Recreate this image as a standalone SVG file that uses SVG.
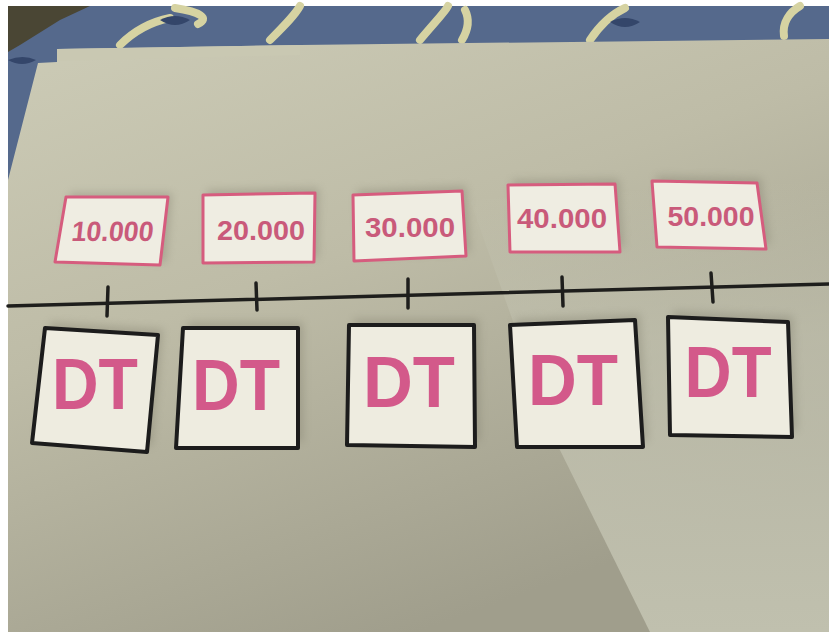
<svg xmlns="http://www.w3.org/2000/svg" width="829" height="632" viewBox="0 0 829 632">
  <style>
    .num { font-family: "Liberation Sans", Arial, sans-serif; font-weight: bold; font-size: 28px; fill: #c95a7a; text-anchor: middle; }
    .dt { font-family: "Liberation Sans", Arial, sans-serif; font-weight: bold; font-size: 72px; fill: #d3598a; text-anchor: middle; }
    .lbl { fill: #efede2; stroke: #d65c7e; stroke-width: 3; stroke-linejoin: round; }
    .card { fill: #eeece0; stroke: #1c1c1c; stroke-width: 4; stroke-linejoin: round; }
    .shadow { fill: #6e6c5c; opacity: 0.3; filter: url(#blur); }
    .swirl { fill: none; stroke: #d6d3a2; stroke-width: 8; stroke-linecap: round; }
  </style>
  <defs>
    <filter id="blur" x="-20%" y="-20%" width="140%" height="140%">
      <feGaussianBlur stdDeviation="4"/>
    </filter>
    <linearGradient id="paper" x1="0" y1="0" x2="0.5" y2="1">
      <stop offset="0" stop-color="#cccbb6"/>
      <stop offset="0.45" stop-color="#bebca7"/>
      <stop offset="1" stop-color="#a09e8c"/>
    </linearGradient>
    <linearGradient id="light" x1="0" y1="0" x2="0" y2="1">
      <stop offset="0" stop-color="#c6c6b3" stop-opacity="0"/>
      <stop offset="0.35" stop-color="#c3c3b1" stop-opacity="0.6"/>
      <stop offset="1" stop-color="#c0c0ae" stop-opacity="1"/>
    </linearGradient>
  </defs>

  <rect x="0" y="0" width="829" height="632" fill="#ffffff"/>

  <!-- fabric background -->
  <g id="fabric">
    <rect x="8" y="6" width="821" height="200" fill="#55698c"/>
    <polygon points="8,6 90,6 60,20 20,45 8,52" fill="#4a4634"/>
    <path class="swirl" d="M120,45 C135,30 150,22 170,18"/>
    <path class="swirl" d="M175,8 C200,12 210,18 198,24"/>
    <path class="swirl" d="M270,40 C285,25 295,15 300,6"/>
    <path class="swirl" d="M420,40 C435,22 445,12 448,6"/>
    <path class="swirl" d="M465,10 C470,20 468,30 462,40"/>
    <path class="swirl" d="M590,40 C600,25 612,14 625,8"/>
    <path class="swirl" d="M784,36 C782,22 790,12 800,6"/>
    <path d="M160,20 q15,-8 30,0 q-15,10 -30,0z" fill="#34466a"/>
    <path d="M610,22 q15,-8 30,0 q-15,10 -30,0z" fill="#34466a"/>
    <path d="M8,60 q15,-6 28,0 q-14,8 -28,0z" fill="#34466a"/>
  </g>

  <!-- paper -->
  <g id="paper-sheets">
    <polygon points="57,49 300,45 829,39 829,632 8,632 8,180 38,63 57,62" fill="url(#paper)"/>
    <polygon points="57,49 300,45 300,55 57,61" fill="#c9c8b2"/>
    <polygon points="470,200 829,180 829,632 650,632 555,440" fill="url(#light)"/>
  </g>

  <!-- number line -->
  <g id="connectors" stroke="#1e1e1c" stroke-width="3.5" stroke-linecap="round">
    <line x1="8" y1="306" x2="829" y2="284"/>
    <line x1="108" y1="287" x2="107" y2="316"/>
    <line x1="256" y1="283" x2="257" y2="310"/>
    <line x1="408" y1="279" x2="408" y2="308"/>
    <line x1="562" y1="277" x2="563" y2="306"/>
    <line x1="711" y1="273" x2="713" y2="302"/>
  </g>

  <!-- number labels -->
  <g id="label-10000">
    <polygon class="shadow" points="70,193 172,193 166,262 60,259"/>
    <polygon class="lbl" points="66,197 168,197 160,265 55,262"/>
    <text class="num" x="112" y="241" textLength="82" lengthAdjust="spacingAndGlyphs" transform="skewX(-6) translate(25,0)">10.000</text>
  </g>
  <g id="label-20000">
    <polygon class="shadow" points="207,190 319,188 318,258 207,259"/>
    <polygon class="lbl" points="203,195 315,193 314,262 203,263"/>
    <text class="num" x="261" y="240" textLength="88" lengthAdjust="spacingAndGlyphs">20.000</text>
  </g>
  <g id="label-30000">
    <polygon class="shadow" points="357,190 466,186 470,252 358,256"/>
    <polygon class="lbl" points="353,195 462,191 466,256 354,261"/>
    <text class="num" x="410" y="237" textLength="90" lengthAdjust="spacingAndGlyphs">30.000</text>
  </g>
  <g id="label-40000">
    <polygon class="shadow" points="512,180 619,179 624,247 514,247"/>
    <polygon class="lbl" points="508,185 615,184 620,252 510,252"/>
    <text class="num" x="562" y="228" textLength="90" lengthAdjust="spacingAndGlyphs">40.000</text>
  </g>
  <g id="label-50000">
    <polygon class="shadow" points="656,176 761,178 770,244 661,242"/>
    <polygon class="lbl" points="652,181 757,183 766,249 657,247"/>
    <text class="num" x="711" y="226" textLength="87" lengthAdjust="spacingAndGlyphs">50.000</text>
  </g>

  <!-- DT cards -->
  <g id="card-1">
    <polygon class="shadow" points="50,322 163,329 152,446 37,437"/>
    <polygon class="card" points="45,328 158,335 147,452 32,443"/>
    <text class="dt" x="95" y="409" textLength="86" lengthAdjust="spacingAndGlyphs">DT</text>
  </g>
  <g id="card-2">
    <polygon class="shadow" points="188,322 303,322 303,442 181,442"/>
    <polygon class="card" points="183,328 298,328 298,448 176,448"/>
    <text class="dt" x="236" y="410" textLength="88" lengthAdjust="spacingAndGlyphs">DT</text>
  </g>
  <g id="card-3">
    <polygon class="shadow" points="354,319 479,319 480,441 352,439"/>
    <polygon class="card" points="349,325 474,325 475,447 347,445"/>
    <text class="dt" x="409" y="407" textLength="92" lengthAdjust="spacingAndGlyphs">DT</text>
  </g>
  <g id="card-4">
    <polygon class="shadow" points="515,319 640,314 648,441 522,441"/>
    <polygon class="card" points="510,325 635,320 643,447 517,447"/>
    <text class="dt" x="573" y="405" textLength="90" lengthAdjust="spacingAndGlyphs">DT</text>
  </g>
  <g id="card-5">
    <polygon class="shadow" points="673,311 793,316 797,431 675,429"/>
    <polygon class="card" points="668,317 788,322 792,437 670,435"/>
    <text class="dt" x="728" y="397" textLength="87" lengthAdjust="spacingAndGlyphs">DT</text>
  </g>
</svg>
